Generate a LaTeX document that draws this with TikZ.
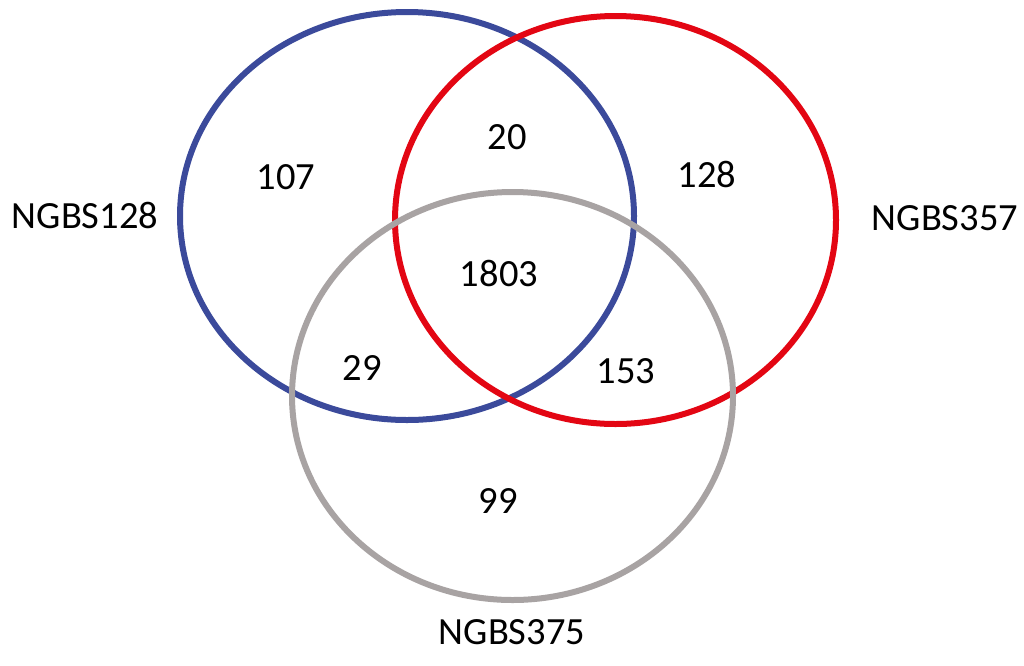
\documentclass[tikz,border=0pt]{standalone}
\usepackage{fontspec}
\setmainfont{Carlito}
\definecolor{vblue}{RGB}{59,74,155}
\definecolor{vred}{RGB}{227,6,19}
\definecolor{vgray}{RGB}{168,163,163}
\begin{document}
\begin{tikzpicture}[x=1pt,y=-1pt,
  ring/.style={line width=6pt},
  lbl/.style={font=\fontsize{38.5}{44}\selectfont, text=black, inner sep=0pt}]
\useasboundingbox[fill=white] (0,0) rectangle (1024,665);
\draw[ring, vblue] (407,216) ellipse [x radius=227, y radius=204];
\draw[ring, vred] (615.5,220) ellipse [x radius=220.5, y radius=204];
\draw[ring, vgray] (512.5,396) ellipse [x radius=220.5, y radius=204];
\node[lbl] (s1) at (85,215) {NGBS128};
\node[lbl] (s2) at (945,218) {NGBS357};
\node[lbl] (s3) at (512,632) {NGBS375};
\node[lbl] (a) at (286,177) {107};
\node[lbl] (ab) at (507,137) {20};
\node[lbl] (b) at (707,174) {128};
\node[lbl] (abc) at (499,273) {1803};
\node[lbl] (ac) at (362,368) {29};
\node[lbl] (bc) at (626,371) {153};
\node[lbl] (c) at (498,501) {99};
\end{tikzpicture}
\end{document}
